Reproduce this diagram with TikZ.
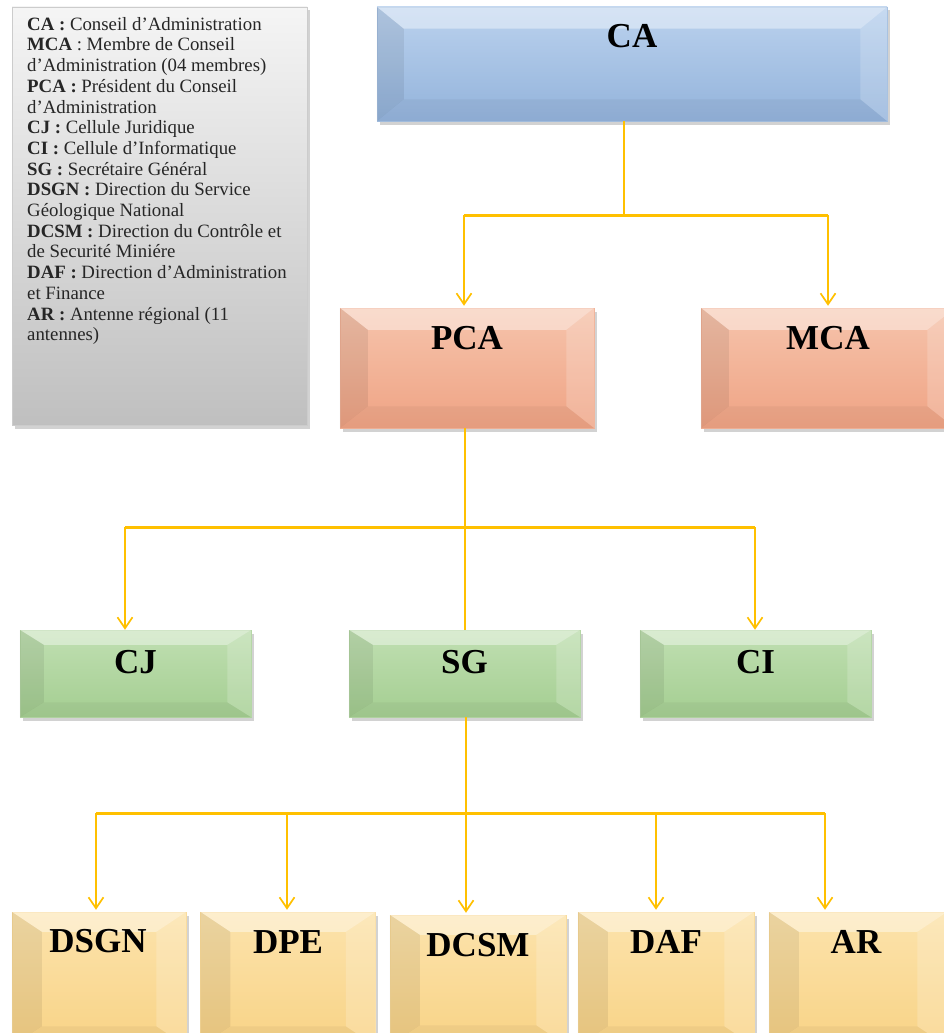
\documentclass[tikz,border=0pt]{standalone}
\usepackage{fontspec}
\setmainfont{Liberation Serif}
\usetikzlibrary{arrows.meta,shadows}
\definecolor{arrowc}{HTML}{FFC000}
\definecolor{caT}{HTML}{BBD2EE}
\definecolor{caB}{HTML}{93B3DB}
\definecolor{pcT}{HTML}{F6C4AC}
\definecolor{pcB}{HTML}{EFA384}
\definecolor{grT}{HTML}{C0DFB2}
\definecolor{grB}{HTML}{A4CE91}
\definecolor{yeT}{HTML}{FCE3AC}
\definecolor{yeB}{HTML}{F8D386}
\newcommand\bevel[3]{%
  \fill[white,opacity=0.40] (#1.north west) -- (#1.north east) -- ([shift={(-#2,#3)}]#1.north east) -- ([shift={(#2,#3)}]#1.north west) -- cycle;
  \fill[black,opacity=0.07] (#1.north west) -- ([shift={(#2,#3)}]#1.north west) -- ([shift={(#2,-#3)}]#1.south west) -- (#1.south west) -- cycle;
  \fill[white,opacity=0.18] (#1.north east) -- ([shift={(-#2,#3)}]#1.north east) -- ([shift={(-#2,-#3)}]#1.south east) -- (#1.south east) -- cycle;
  \fill[black,opacity=0.04] (#1.south west) -- ([shift={(#2,-#3)}]#1.south west) -- ([shift={(-#2,-#3)}]#1.south east) -- (#1.south east) -- cycle;
}
\tikzset{
  orgbox/.style 2 args={rectangle, inner sep=0pt, top color=#1, bottom color=#2, draw=#2!85!white, line width=0.5pt,
    drop shadow={opacity=0.35, shadow xshift=2.5pt, shadow yshift=-3.5pt}},
  lbl/.style={inner sep=0pt, font=\bfseries\fontsize{35}{40}\selectfont},
  conn/.style={draw=arrowc, line width=1.9pt},
  bus/.style={draw=arrowc, line width=3pt},
  arr/.style={draw=arrowc, line width=1.9pt, -{Straight Barb[length=11pt,width=15pt,line width=1.7pt]}},
  legbox/.style={rectangle, inner sep=0pt, top color=gray!8, bottom color=gray!50, draw=gray!40, line width=0.4pt,
    drop shadow={opacity=0.35, shadow xshift=2.5pt, shadow yshift=-3.5pt}},
  legtext/.style={inner sep=0pt, align=left, font=\fontsize{18.8}{20.7}\selectfont, text=black!85}
}
\begin{document}
\begin{tikzpicture}[x=1pt,y=-1pt]
\useasboundingbox (0,0) rectangle (944,1033);
\fill[white] (0,0) rectangle (944,1033);
\begin{scope}
\clip (0,0) rectangle (944,1033);
% legend
\node[legbox, minimum width=295pt, minimum height=418pt] (leg) at (159.5,216) {};
\node[legtext, anchor=north west] (legT) at (27,17) {%
\textbf{CA :} Conseil d’Administration\\
\textbf{MCA} : Membre de Conseil\\
d’Administration (04 membres)\\
\textbf{PCA :} Président du Conseil\\
d’Administration\\
\textbf{CJ :} Cellule Juridique\\
\textbf{CI :} Cellule d’Informatique\\
\textbf{SG :} Secrétaire Général\\
\textbf{DSGN :} Direction du Service\\
Géologique National\\
\textbf{DCSM :} Direction du Contrôle et\\
de Securité Miniére\\
\textbf{DAF :} Direction d’Administration\\
et Finance\\
\textbf{AR :} Antenne régional (11\\
antennes)};
% boxes
\node[orgbox={caT}{caB}, minimum width=510pt, minimum height=114pt] (ca) at (632,64) {};
\bevel{ca}{27}{22}
\node[lbl] (caL) at (632,36) {CA};

\node[orgbox={pcT}{pcB}, minimum width=254pt, minimum height=120pt] (pca) at (467,368) {};
\bevel{pca}{28}{22}
\node[lbl] (pcaL) at (467,338) {PCA};
\node[orgbox={pcT}{pcB}, minimum width=254pt, minimum height=120pt] (mca) at (828,368) {};
\bevel{mca}{28}{22}
\node[lbl] (mcaL) at (828,338) {MCA};

\node[orgbox={grT}{grB}, minimum width=231pt, minimum height=87pt] (cj) at (135.5,673.5) {};
\bevel{cj}{24}{15}
\node[lbl] (cjL) at (135.5,662) {CJ};
\node[orgbox={grT}{grB}, minimum width=231pt, minimum height=87pt] (sg) at (464.5,673.5) {};
\bevel{sg}{24}{15}
\node[lbl] (sgL) at (464.5,662) {SG};
\node[orgbox={grT}{grB}, minimum width=231pt, minimum height=87pt] (ci) at (755.5,673.5) {};
\bevel{ci}{24}{15}
\node[lbl] (ciL) at (755.5,662) {CI};

\node[orgbox={yeT}{yeB}, minimum width=174pt, minimum height=134pt] (dsgn) at (99,979) {};
\bevel{dsgn}{30}{20}
\node[lbl] (dsgnL) at (98,941) {DSGN};
\node[orgbox={yeT}{yeB}, minimum width=175pt, minimum height=134pt] (dpe) at (288,979) {};
\bevel{dpe}{30}{20}
\node[lbl] (dpeL) at (288,942) {DPE};
\node[orgbox={yeT}{yeB}, minimum width=176pt, minimum height=130pt] (dcsm) at (478,980) {};
\bevel{dcsm}{30}{20}
\node[lbl] (dcsmL) at (478,945) {DCSM};
\node[orgbox={yeT}{yeB}, minimum width=176pt, minimum height=134pt] (daf) at (666,979) {};
\bevel{daf}{30}{20}
\node[lbl] (dafL) at (666,942) {DAF};
\node[orgbox={yeT}{yeB}, minimum width=178pt, minimum height=134pt] (ar) at (858,979) {};
\bevel{ar}{30}{20}
\node[lbl] (arL) at (856,942) {AR};
\end{scope}

% connectors level 1
\coordinate (j1) at (624,215);
\coordinate (j1l) at (464,215);
\coordinate (j1r) at (828,215);
\draw[conn] (j1 |- ca.south) -- (j1);
\draw[bus] (j1l) -- (j1r);
\draw[arr] (j1l) -- ([yshift=2pt]j1l |- pca.north);
\draw[arr] (j1r) -- ([yshift=2pt]j1r |- mca.north);

% connectors level 2
\coordinate (j2) at (465,527);
\coordinate (j2l) at (125,527);
\coordinate (j2r) at (755,527);
\draw[conn] (j2 |- pca.south) -- (j2 |- sg.north);
\draw[bus] (j2l) -- (j2r);
\draw[arr] (j2l) -- (j2l |- cj.north);
\draw[arr] (j2r) -- (j2r |- ci.north);

% connectors level 3
\coordinate (j3) at (466,813);
\coordinate (k1) at (96,813);
\coordinate (k2) at (287,813);
\coordinate (k3) at (466,813);
\coordinate (k4) at (656,813);
\coordinate (k5) at (825,813);
\draw[conn] (j3 |- sg.south) -- (j3);
\draw[bus] (k1) -- (k5);
\draw[arr] (k1) -- ([yshift=2pt]k1 |- dsgn.north);
\draw[arr] (k2) -- ([yshift=2pt]k2 |- dpe.north);
\draw[arr] (k3) -- ([yshift=2pt]k3 |- dcsm.north);
\draw[arr] (k4) -- ([yshift=2pt]k4 |- daf.north);
\draw[arr] (k5) -- ([yshift=2pt]k5 |- ar.north);
\end{tikzpicture}
\end{document}
